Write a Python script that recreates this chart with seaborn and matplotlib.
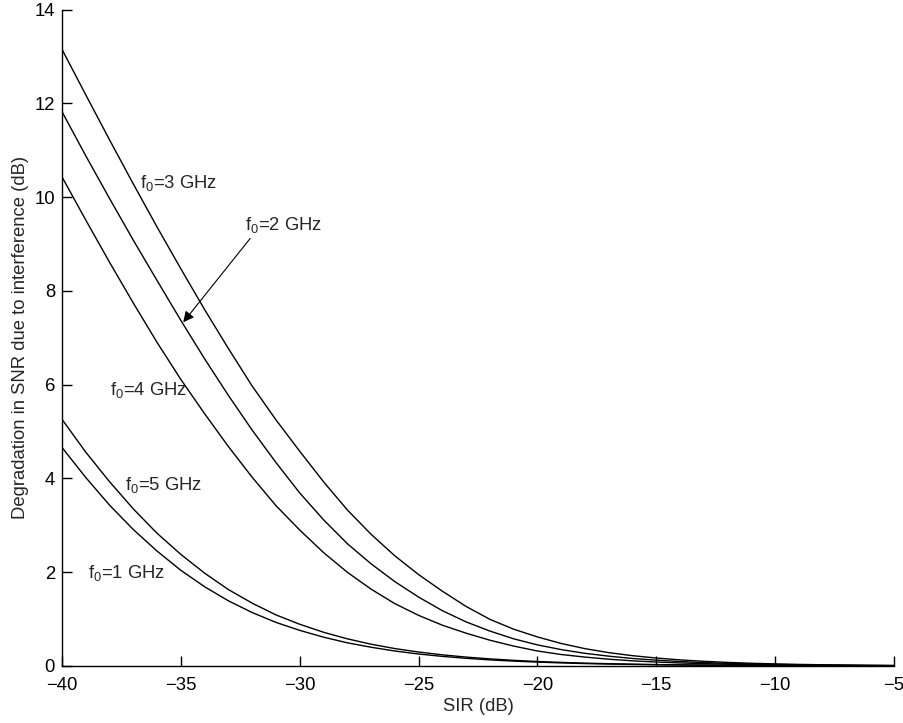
import numpy as np
import pandas as pd
import matplotlib
matplotlib.use("Agg")
import matplotlib.pyplot as plt
import seaborn as sns

# ---- data ----
sir_db = list(range(-40, -4))  # -40 ... -5 dB

deg_f3 = [13.15, 12.18, 11.22, 10.28, 9.36, 8.47, 7.60, 6.77, 5.97, 5.25, 4.58, 3.93,
          3.33, 2.81, 2.35, 1.95, 1.595, 1.27, 0.995, 0.785, 0.62, 0.48, 0.37, 0.285,
          0.22, 0.17, 0.13, 0.10, 0.077, 0.058, 0.045, 0.034, 0.026, 0.02, 0.015, 0.011]
deg_f2 = [11.82, 10.88, 9.97, 9.08, 8.22, 7.37, 6.55, 5.77, 5.03, 4.34, 3.69, 3.12,
          2.61, 2.18, 1.80, 1.47, 1.18, 0.94, 0.745, 0.58, 0.45, 0.35, 0.27, 0.21,
          0.16, 0.125, 0.095, 0.073, 0.056, 0.043, 0.033, 0.025, 0.019, 0.015, 0.011, 0.009]
deg_f4 = [10.43, 9.51, 8.61, 7.74, 6.90, 6.11, 5.38, 4.68, 4.025, 3.42, 2.90, 2.42,
          2.00, 1.64, 1.33, 1.08, 0.87, 0.70, 0.55, 0.425, 0.32, 0.245, 0.19, 0.145,
          0.11, 0.085, 0.065, 0.05, 0.038, 0.029, 0.022, 0.017, 0.013, 0.01, 0.008, 0.006]
deg_f5 = [5.26, 4.56, 3.93, 3.35, 2.83, 2.38, 1.98, 1.63, 1.34, 1.09, 0.89, 0.72,
          0.58, 0.465, 0.372, 0.298, 0.238, 0.19, 0.152, 0.121, 0.096, 0.077, 0.061, 0.049,
          0.039, 0.031, 0.024, 0.019, 0.015, 0.012, 0.0097, 0.0077, 0.0061, 0.0049, 0.0039, 0.0031]
deg_f1 = [4.66, 4.02, 3.43, 2.91, 2.45, 2.04, 1.69, 1.39, 1.14, 0.93, 0.76, 0.615,
          0.495, 0.40, 0.32, 0.256, 0.205, 0.164, 0.13, 0.104, 0.083, 0.066, 0.052, 0.042,
          0.033, 0.026, 0.021, 0.017, 0.013, 0.0105, 0.0083, 0.0066, 0.0052, 0.0042, 0.0033, 0.0026]

series_names = ["f0=3 GHz", "f0=2 GHz", "f0=4 GHz", "f0=5 GHz", "f0=1 GHz"]
series_vals = [deg_f3, deg_f2, deg_f4, deg_f5, deg_f1]

x_ticks = [-40, -35, -30, -25, -20, -15, -10, -5]
y_ticks = [0, 2, 4, 6, 8, 10, 12, 14]

df = pd.DataFrame({
    "SIR": np.tile(sir_db, len(series_names)),
    "deg": np.concatenate(series_vals),
    "freq": np.repeat(series_names, len(sir_db)),
})

# ---- style ----
sns.set_style("ticks")
plt.rcParams["font.family"] = ["Liberation Sans", "DejaVu Sans"]
plt.rcParams["mathtext.default"] = "regular"
plt.rcParams["xtick.direction"] = "in"
plt.rcParams["ytick.direction"] = "in"

fig = plt.figure(figsize=(9.04, 7.23), dpi=100)
ax = fig.add_axes([62 / 904, 1 - 666 / 723, (894 - 62) / 904, (666 - 9.5) / 723])

sns.lineplot(data=df, x="SIR", y="deg", hue="freq", units="freq", estimator=None,
             palette=["black"] * len(series_names), linewidth=1.0, legend=False, ax=ax)

fs = 13.3
ax.set_xlim(-40, -5)
ax.set_ylim(0, 14)
ax.set_xticks(x_ticks)
ax.set_yticks(y_ticks)
ax.tick_params(axis="both", labelsize=fs, length=7, width=1.0, color="black",
               labelcolor="black")
ax.tick_params(axis="x", pad=8)
ax.tick_params(axis="y", pad=5)
for s in ["top", "right"]:
    ax.spines[s].set_visible(False)
for s in ["left", "bottom"]:
    ax.spines[s].set_color("black")
    ax.spines[s].set_linewidth(1.0)

ax.set_xlabel("SIR (dB)", fontsize=fs, labelpad=3)
ax.set_ylabel("Degradation in SNR due to interference (dB)", fontsize=fs, labelpad=4)

ax.text(-36.7, 10.3, "f$_0$=3 GHz", fontsize=fs, va="center", ha="left")
ax.text(-37.98, 5.88, "f$_0$=4 GHz", fontsize=fs, va="center", ha="left")
ax.text(-37.35, 3.86, "f$_0$=5 GHz", fontsize=fs, va="center", ha="left")
ax.text(-38.9, 1.98, "f$_0$=1 GHz", fontsize=fs, va="center", ha="left")
ax.annotate("f$_0$=2 GHz", xy=(-34.9, 7.33), xytext=(-32.3, 9.4),
            fontsize=fs, va="center", ha="left",
            arrowprops=dict(arrowstyle="-|>", color="black", lw=0.8,
                            mutation_scale=16, shrinkA=0, shrinkB=0,
                            relpos=(0.1, 0.0)))

fig.savefig("out.png", dpi=100)
